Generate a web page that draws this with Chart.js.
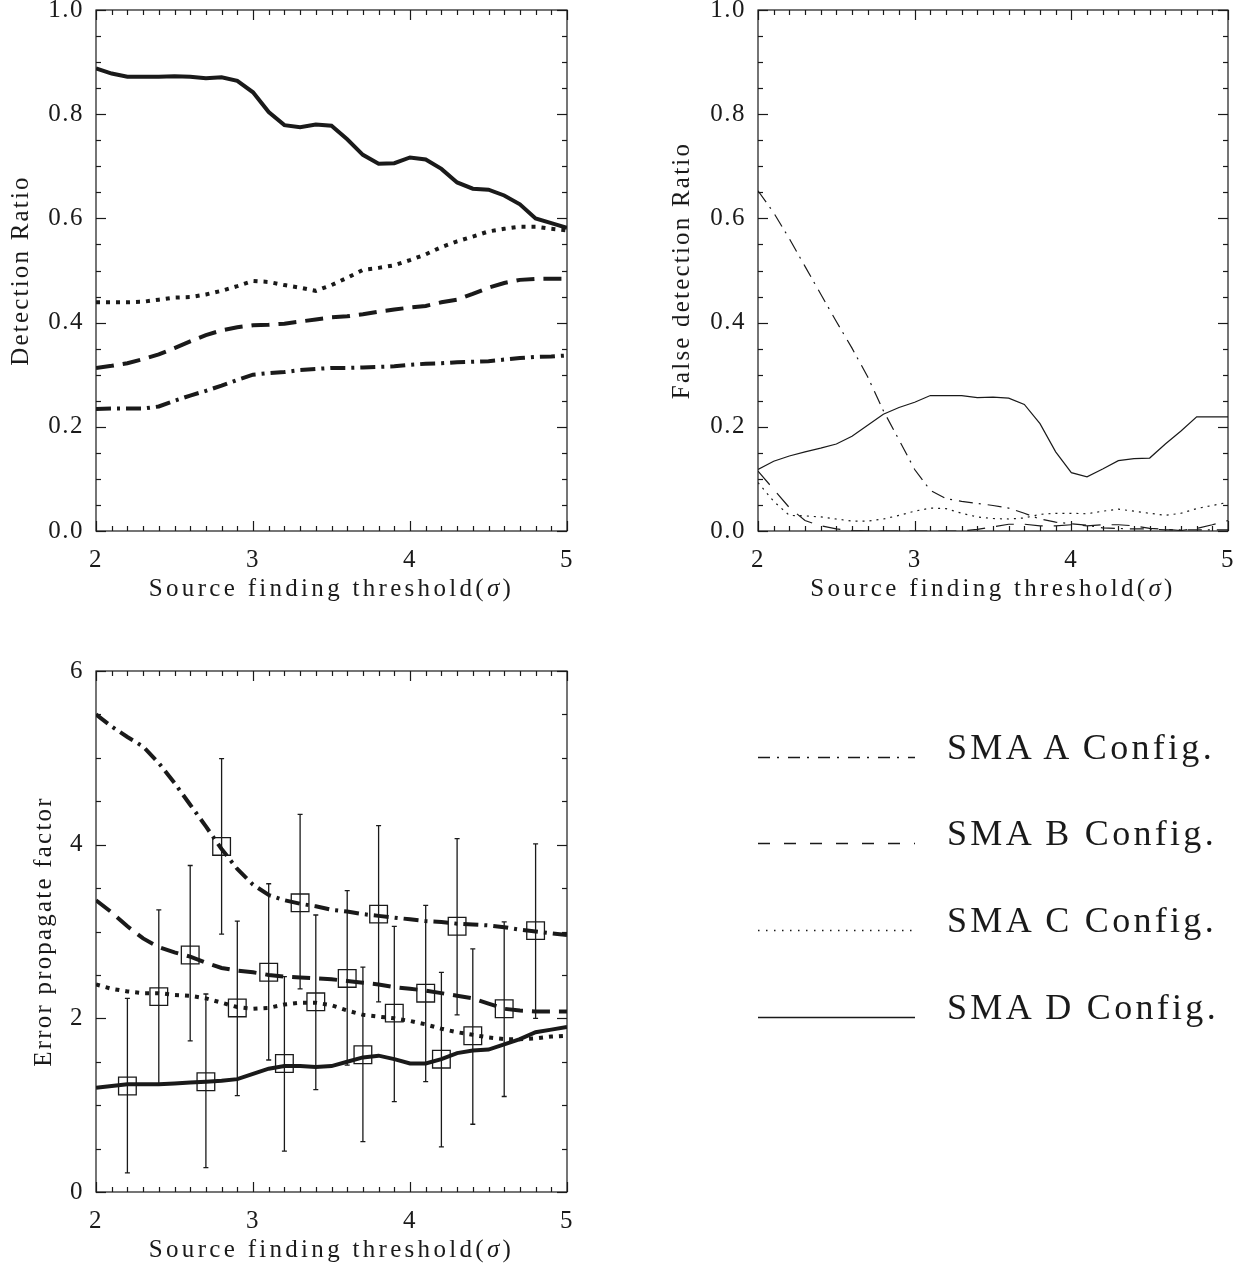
<!DOCTYPE html>
<html>
<head>
<meta charset="utf-8">
<script src="https://cdn.jsdelivr.net/npm/chart.js@4"></script>
<style>
    html, body { margin: 0; padding: 0; background: #fff; }
    body { width: 1249px; height: 1268px; position: relative; overflow: hidden; }
    canvas { position: absolute; }
    #legend { position: absolute; left: 0; top: 0; }
</style>
</head>
<body>
<canvas id="detChart" width="620" height="660" style="left:0;top:-30px"></canvas>
<canvas id="falseChart" width="609" height="660" style="left:640px;top:-30px"></canvas>
<canvas id="errChart" width="620" height="628" style="left:0;top:640px"></canvas>
<svg id="legend" width="1249" height="1268"></svg>
<script>
// Source finding threshold (sigma), shared by all three panels
const thresholds = [2.0, 2.1, 2.2, 2.3, 2.4, 2.5, 2.6, 2.7, 2.8, 2.9, 3.0, 3.1, 3.2, 3.3, 3.4, 3.5,
    3.6, 3.7, 3.8, 3.9, 4.0, 4.1, 4.2, 4.3, 4.4, 4.5, 4.6, 4.7, 4.8, 4.9, 5.0];

const configNames = ['SMA A Config.', 'SMA B Config.', 'SMA C Config.', 'SMA D Config.'];

// Detection ratio
const detA = [0.234, 0.235, 0.235, 0.235, 0.239, 0.250, 0.260, 0.269, 0.279, 0.290, 0.300, 0.303, 0.305, 0.309, 0.311, 0.313,
    0.313, 0.314, 0.315, 0.316, 0.319, 0.321, 0.322, 0.324, 0.325, 0.326, 0.329, 0.332, 0.334, 0.335, 0.337];
const detB = [0.313, 0.317, 0.322, 0.330, 0.339, 0.351, 0.364, 0.376, 0.385, 0.391, 0.395, 0.396, 0.398, 0.402, 0.406, 0.410,
    0.412, 0.416, 0.421, 0.425, 0.429, 0.432, 0.439, 0.444, 0.455, 0.467, 0.476, 0.482, 0.484, 0.484, 0.484];
const detC = [0.439, 0.439, 0.439, 0.440, 0.444, 0.448, 0.449, 0.454, 0.461, 0.470, 0.480, 0.478, 0.472, 0.467, 0.461, 0.472,
    0.486, 0.501, 0.505, 0.510, 0.520, 0.531, 0.545, 0.556, 0.565, 0.575, 0.580, 0.584, 0.584, 0.580, 0.577];
const detD = [0.888, 0.878, 0.872, 0.872, 0.872, 0.873, 0.872, 0.869, 0.871, 0.864, 0.842, 0.804, 0.779, 0.775, 0.780, 0.778,
    0.752, 0.722, 0.705, 0.706, 0.717, 0.713, 0.695, 0.669, 0.657, 0.655, 0.644, 0.627, 0.600, 0.591, 0.582];

// False detection ratio
const falseA = [0.653, 0.611, 0.561, 0.508, 0.455, 0.402, 0.351, 0.296, 0.231, 0.175, 0.118, 0.078, 0.062, 0.057, 0.053, 0.049,
    0.044, 0.034, 0.023, 0.017, 0.014, 0.011, 0.006, 0.005, 0.004, 0.004, 0.002, 0.002, 0.002, 0.002, 0.002];
const falseB = [0.115, 0.080, 0.045, 0.020, 0.010, 0.004, 0.001, 0.000, 0.000, 0.000, 0.000, 0.000, 0.000, 0.000, 0.003, 0.008,
    0.013, 0.013, 0.010, 0.010, 0.012, 0.010, 0.012, 0.012, 0.010, 0.005, 0.003, 0.001, 0.005, 0.012, 0.020];
const falseC = [0.093, 0.057, 0.030, 0.029, 0.027, 0.023, 0.019, 0.019, 0.023, 0.030, 0.038, 0.044, 0.043, 0.034, 0.027, 0.024,
    0.023, 0.025, 0.032, 0.034, 0.034, 0.033, 0.038, 0.042, 0.038, 0.034, 0.030, 0.034, 0.043, 0.049, 0.055];
const falseD = [0.118, 0.134, 0.144, 0.152, 0.159, 0.167, 0.182, 0.203, 0.224, 0.237, 0.247, 0.260, 0.260, 0.260, 0.256, 0.257,
    0.255, 0.243, 0.206, 0.152, 0.112, 0.104, 0.119, 0.135, 0.139, 0.140, 0.167, 0.192, 0.219, 0.219, 0.219];

// Error propagate factor
const errA = [5.50, 5.36, 5.24, 5.13, 4.94, 4.71, 4.46, 4.21, 3.95, 3.72, 3.54, 3.42, 3.36, 3.32, 3.29, 3.25,
    3.23, 3.20, 3.18, 3.16, 3.14, 3.12, 3.11, 3.09, 3.08, 3.07, 3.05, 3.02, 3.00, 2.98, 2.96];
const errB = [3.36, 3.22, 3.06, 2.92, 2.82, 2.76, 2.71, 2.64, 2.58, 2.55, 2.53, 2.50, 2.48, 2.47, 2.46, 2.45,
    2.43, 2.41, 2.39, 2.36, 2.34, 2.32, 2.29, 2.26, 2.23, 2.17, 2.11, 2.09, 2.08, 2.08, 2.08];
const errC = [2.39, 2.34, 2.31, 2.29, 2.29, 2.27, 2.26, 2.23, 2.18, 2.13, 2.11, 2.12, 2.16, 2.18, 2.18, 2.15,
    2.09, 2.04, 2.02, 2.00, 1.97, 1.93, 1.88, 1.84, 1.81, 1.78, 1.76, 1.76, 1.77, 1.79, 1.80];
const errD = [1.20, 1.22, 1.24, 1.24, 1.24, 1.25, 1.26, 1.27, 1.28, 1.30, 1.36, 1.42, 1.45, 1.45, 1.44, 1.45,
    1.50, 1.55, 1.57, 1.53, 1.48, 1.48, 1.53, 1.60, 1.63, 1.64, 1.70, 1.76, 1.84, 1.87, 1.90];

// Measured points with error bars
const markX = [2.2, 2.4, 2.6, 2.7, 2.8, 2.9, 3.1, 3.2, 3.3, 3.4, 3.6, 3.7, 3.8, 3.9, 4.1, 4.2, 4.3, 4.4, 4.6, 4.8];
const markY = [1.22, 2.25, 2.73, 1.27, 3.98, 2.12, 2.53, 1.48, 3.33, 2.19, 2.46, 1.58, 3.20, 2.06, 2.29, 1.53, 3.06, 1.80, 2.11, 3.01];
const markLow = [0.22, 1.24, 1.74, 0.28, 2.97, 1.11, 1.52, 0.47, 2.34, 1.18, 1.46, 0.58, 2.19, 1.04, 1.27, 0.52, 2.04, 0.78, 1.10, 2.00];
const markHigh = [2.23, 3.25, 3.76, 2.28, 4.99, 3.12, 3.55, 2.48, 4.35, 3.19, 3.47, 2.59, 4.22, 3.06, 3.30, 2.53, 4.07, 2.80, 3.11, 4.01];

const ink = '#1a1a1a';
const serif = "'Liberation Serif', 'DejaVu Serif', serif";

// Line styles: A dash-dot, B dashed, C dotted, D solid
const thickDash = [[15, 6, 3, 6], [18, 9], [4, 6], []];
const thinDash = [[14, 6, 2, 7], [18, 11], [2, 5], []];

function toPoints(values) {
    return values.map((v, i) => ({ x: thresholds[i], y: v }));
}

function lineSets(series, width, dashes) {
    return series.map((values, i) => ({
        label: configNames[i],
        data: toPoints(values),
        borderColor: ink,
        borderWidth: width,
        borderDash: dashes[i],
        pointRadius: 0,
        tension: 0,
        fill: false
    }));
}

// Frame with inward ticks on all four sides, plus axis titles (IDL look)
const frameTicks = {
    id: 'frameTicks',
    beforeDraw(chart) {
        chart.ctx.letterSpacing = '1.5px';
    },
    afterDatasetsDraw(chart, args, opts) {
        const { ctx, chartArea: a, scales: { x, y } } = chart;
        ctx.save();
        ctx.strokeStyle = ink;
        ctx.lineWidth = 1.2;
        ctx.strokeRect(a.left, a.top, a.right - a.left, a.bottom - a.top);

        const seg = (x1, y1, x2, y2) => {
            ctx.beginPath();
            ctx.moveTo(x1, y1);
            ctx.lineTo(x2, y2);
            ctx.stroke();
        };
        const isMajor = (v, step) => Math.abs(v / step - Math.round(v / step)) < 1e-6;

        const nx = Math.round((x.max - x.min) / opts.xMinor);
        for (let i = 0; i <= nx; i++) {
            const v = x.min + i * opts.xMinor;
            const px = Math.round(x.getPixelForValue(v)) + 0.5;
            const len = isMajor(v, opts.xMajor) ? 10 : 5;
            seg(px, a.bottom, px, a.bottom - len);
            seg(px, a.top, px, a.top + len);
        }
        const ny = Math.round((y.max - y.min) / opts.yMinor);
        for (let i = 0; i <= ny; i++) {
            const v = y.min + i * opts.yMinor;
            const py = Math.round(y.getPixelForValue(v)) + 0.5;
            const len = isMajor(v, opts.yMajor) ? 10 : 5;
            seg(a.left, py, a.left + len, py);
            seg(a.right, py, a.right - len, py);
        }

        // x title with an italic sigma
        ctx.fillStyle = ink;
        ctx.letterSpacing = '3.3px';
        ctx.textBaseline = 'middle';
        ctx.textAlign = 'left';
        const parts = [['Source finding threshold(', 'normal'], ['σ', 'italic'], [')', 'normal']];
        let total = 0;
        parts.forEach(p => {
            ctx.font = p[1] + ' 25px ' + serif;
            total += ctx.measureText(p[0]).width;
        });
        let cx = (a.left + a.right) / 2 - total / 2;
        const ty = a.bottom + 58;
        parts.forEach(p => {
            ctx.font = p[1] + ' 25px ' + serif;
            ctx.fillText(p[0], cx, ty);
            cx += ctx.measureText(p[0]).width;
        });

        // y title
        ctx.font = 'normal 25px ' + serif;
        ctx.letterSpacing = '2.2px';
        ctx.textAlign = 'center';
        ctx.translate(a.left - opts.yTitleOffset, (a.top + a.bottom) / 2);
        ctx.rotate(-Math.PI / 2);
        ctx.fillText(opts.yTitle, 0, 0);
        ctx.restore();
    }
};

// Vertical error bars for the measured points
const errorBars = {
    id: 'errorBars',
    afterDatasetsDraw(chart, args, opts) {
        if (!opts.low) return;
        const { ctx, scales: { x, y } } = chart;
        ctx.save();
        ctx.strokeStyle = ink;
        ctx.lineWidth = 1.3;
        opts.xs.forEach((xv, i) => {
            const px = x.getPixelForValue(xv);
            const top = y.getPixelForValue(opts.high[i]);
            const bot = y.getPixelForValue(opts.low[i]);
            ctx.beginPath();
            ctx.moveTo(px, top); ctx.lineTo(px, bot);
            ctx.moveTo(px - 2.5, top); ctx.lineTo(px + 2.5, top);
            ctx.moveTo(px - 2.5, bot); ctx.lineTo(px + 2.5, bot);
            ctx.stroke();
        });
        ctx.restore();
    }
};

function makePanel(id, datasets, cfg) {
    return new Chart(document.getElementById(id), {
        type: 'line',
        data: { datasets: datasets },
        options: {
            responsive: false,
            animation: false,
            devicePixelRatio: 1,
            layout: { padding: { top: cfg.padTop, right: cfg.padRight, left: 0, bottom: 0 } },
            scales: {
                x: {
                    type: 'linear',
                    min: 2, max: 5,
                    ticks: { stepSize: 1, color: ink, padding: 6, font: { family: serif, size: 25 } },
                    grid: { display: false },
                    border: { display: false },
                    afterFit: s => { s.height = cfg.xHeight; }
                },
                y: {
                    min: cfg.yMin, max: cfg.yMax,
                    ticks: {
                        stepSize: cfg.yMajor, color: ink, padding: 4,
                        font: { family: serif, size: 25 },
                        callback: v => v.toFixed(cfg.yDigits)
                    },
                    grid: { display: false },
                    border: { display: false },
                    afterFit: s => { s.width = cfg.yWidth; }
                }
            },
            plugins: {
                legend: { display: false },
                tooltip: { enabled: false },
                frameTicks: {
                    xMajor: 1, xMinor: 0.1,
                    yMajor: cfg.yMajor, yMinor: cfg.yMinor,
                    yTitle: cfg.yTitle, yTitleOffset: cfg.yTitleOffset
                },
                errorBars: cfg.errorBars || {}
            }
        },
        plugins: [frameTicks, errorBars]
    });
}

makePanel('detChart', lineSets([detA, detB, detC, detD], 4, thickDash), {
    padTop: 40, padRight: 53, xHeight: 99, yWidth: 96,
    yMin: 0, yMax: 1, yMajor: 0.2, yMinor: 0.05, yDigits: 1,
    yTitle: 'Detection Ratio', yTitleOffset: 75
});

makePanel('falseChart', lineSets([falseA, falseB, falseC, falseD], 1.2, thinDash), {
    padTop: 40, padRight: 21, xHeight: 99, yWidth: 118,
    yMin: 0, yMax: 1, yMajor: 0.2, yMinor: 0.05, yDigits: 1,
    yTitle: 'False detection Ratio', yTitleOffset: 76
});

const errSets = lineSets([errA, errB, errC, errD], 4, thickDash);
errSets.push({
    label: 'measured',
    data: markX.map((v, i) => ({ x: v, y: markY[i] })),
    showLine: false,
    pointStyle: 'rect',
    pointRadius: 12.5,
    pointBorderWidth: 1.3,
    pointBorderColor: ink,
    pointBackgroundColor: 'rgba(0,0,0,0)'
});
makePanel('errChart', errSets, {
    padTop: 31, padRight: 53, xHeight: 76, yWidth: 96,
    yMin: 0, yMax: 6, yMajor: 2, yMinor: 0.5, yDigits: 0,
    yTitle: 'Error propagate factor', yTitleOffset: 52,
    errorBars: { xs: markX, low: markLow, high: markHigh }
});

// Legend (SVG, real text)
const legendRows = [757, 843, 930, 1017];
const legendDash = ['12 7 2 9', '12 14', '1.5 6.5', 'none'];
const svgNS = 'http://www.w3.org/2000/svg';
const legend = document.getElementById('legend');
legendRows.forEach((ly, i) => {
    const line = document.createElementNS(svgNS, 'line');
    line.setAttribute('x1', 758);
    line.setAttribute('x2', 915);
    line.setAttribute('y1', ly + 0.5);
    line.setAttribute('y2', ly + 0.5);
    line.setAttribute('stroke', ink);
    line.setAttribute('stroke-width', 1.3);
    if (legendDash[i] !== 'none') line.setAttribute('stroke-dasharray', legendDash[i]);
    legend.appendChild(line);

    const text = document.createElementNS(svgNS, 'text');
    text.setAttribute('x', 947);
    text.setAttribute('y', ly + 2);
    text.setAttribute('fill', ink);
    text.setAttribute('font-family', serif);
    text.setAttribute('font-size', 36);
    text.setAttribute('letter-spacing', 3.3);
    text.textContent = configNames[i];
    legend.appendChild(text);
});
</script>
</body>
</html>
